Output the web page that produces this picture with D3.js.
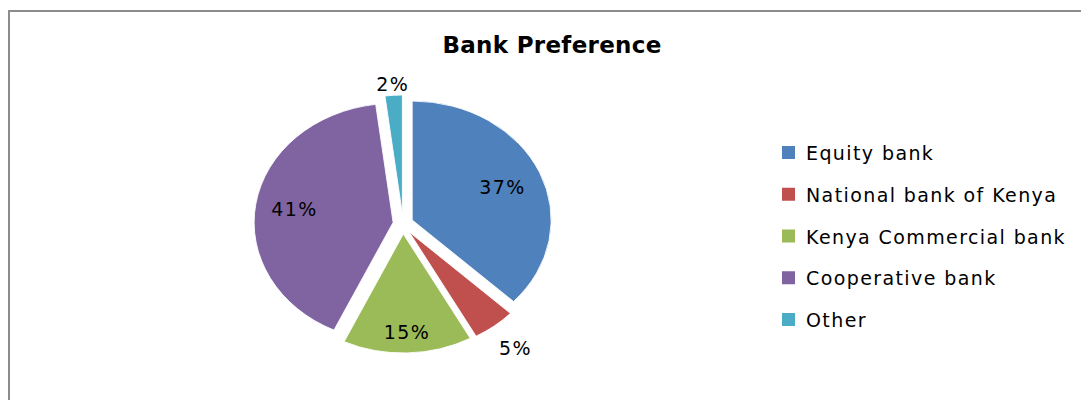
<!DOCTYPE html>
<html>
<head>
<meta charset="utf-8">
<script src="https://cdn.jsdelivr.net/npm/d3@7"></script>
<style>
	body { margin: 0; background: #fff; }
	svg text { font-family: "DejaVu Sans", sans-serif; fill: #000; }
</style>
</head>
<body>
<svg id="chart" width="1081" height="400"></svg>
<script>
	//chart data
var banks = ['Equity bank', 'National bank of Kenya', 'Kenya Commercial bank', 'Cooperative bank', 'Other'];
var shares = [37, 5, 15, 41, 2];
var colors = ['#4F81BD', '#C0504D', '#9BBB59', '#8064A2', '#4BACC6'];
	//where each label sits, as a fraction of the radius
var labelDist = [0.78, 1.32, 0.91, 0.79, 1.18];

var svg = d3.select('#chart');

	//chart frame
svg.append('rect')
	.attr('x', 9).attr('y', 11)
	.attr('width', 1200).attr('height', 500)
	.attr('fill', 'none')
	.attr('stroke', '#8c8c8c')
	.attr('stroke-width', 2);

svg.append('text')
	.attr('x', 552).attr('y', 53)
	.attr('text-anchor', 'middle')
	.style('font-size', '23px')
	.style('font-weight', 'bold')
	.style('letter-spacing', '0.3px')
	.text('Bank Preference');

var cx = 403, cy = 224, rx = 139, ry = 119, explode = 10;

var pie = d3.pie().sort(null).value(function(d) { return d; });
var arc = d3.arc().innerRadius(0).outerRadius(ry);
var arcs = pie(shares);

svg.append('g').selectAll('path')
	.data(arcs)
	.enter().append('path')
	.attr('transform', function(d) {
		var mid = (d.startAngle + d.endAngle) / 2;
		var tx = cx + explode * Math.sin(mid);
		var ty = cy - explode * Math.cos(mid);
		return 'translate(' + tx + ',' + ty + ') scale(' + (rx / ry) + ',1)';
	})
	.attr('d', arc)
	.attr('fill', function(d, i) { return colors[i]; })
	.attr('stroke', '#fff')
	.attr('stroke-width', 0.8);

	//percentage labels
svg.append('g').selectAll('text')
	.data(arcs)
	.enter().append('text')
	.attr('x', function(d, i) {
		var mid = (d.startAngle + d.endAngle) / 2;
		return cx + labelDist[i] * rx * Math.sin(mid);
	})
	.attr('y', function(d, i) {
		var mid = (d.startAngle + d.endAngle) / 2;
		return cy - labelDist[i] * ry * Math.cos(mid);
	})
	.attr('text-anchor', 'middle')
	.attr('dominant-baseline', 'central')
	.style('font-size', '19px')
	.style('letter-spacing', '1.4px')
	.text(function(d) { return d.data + '%'; });

	//legend
var legendY = d3.scalePoint().domain(banks).range([153, 320]);

var legend = svg.append('g').selectAll('g')
	.data(banks)
	.enter().append('g')
	.attr('transform', function(d) { return 'translate(782,' + legendY(d) + ')'; });

legend.append('rect')
	.attr('x', 0).attr('y', -7)
	.attr('width', 13).attr('height', 13)
	.attr('fill', function(d, i) { return colors[i]; });

legend.append('text')
	.attr('x', 24).attr('y', 0)
	.attr('dominant-baseline', 'central')
	.style('font-size', '19px')
	.style('letter-spacing', '1.4px')
	.text(function(d) { return d; });
</script>
</body>
</html>
